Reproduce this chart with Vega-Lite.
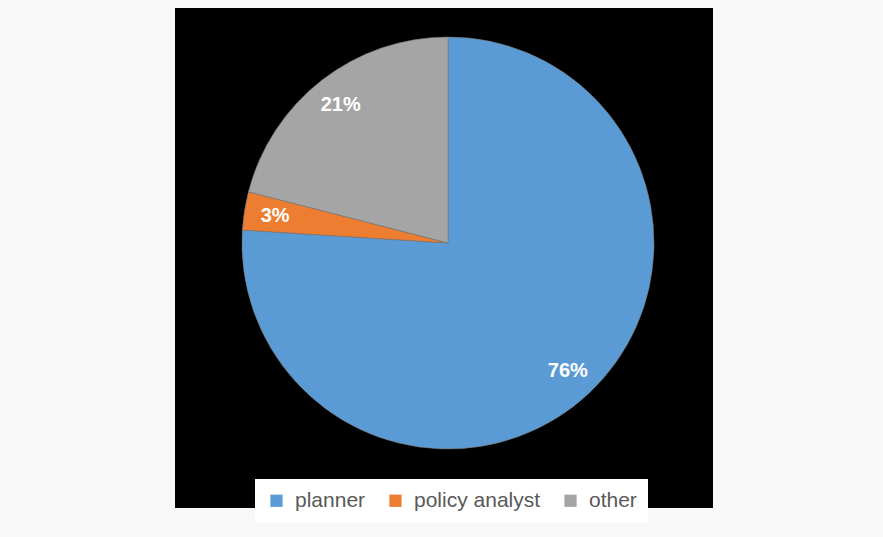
{
  "$schema": "https://vega.github.io/schema/vega-lite/v6.json",
  "width": 538,
  "height": 500,
  "autosize": {"type": "none"},
  "padding": {"left": 175, "top": 8, "right": 170, "bottom": 29},
  "background": "#f8f8f8",
  "view": {"fill": "black", "stroke": null},
  "data": {
    "values": [
      {"role": "planner", "share": 0.76, "idx": 1},
      {"role": "policy analyst", "share": 0.03, "idx": 2},
      {"role": "other", "share": 0.21, "idx": 3}
    ]
  },
  "encoding": {
    "theta": {"field": "share", "type": "quantitative", "stack": true},
    "order": {"field": "idx", "type": "quantitative"},
    "color": {
      "field": "role",
      "type": "nominal",
      "scale": {"domain": ["planner", "policy analyst", "other"], "range": ["#5B9BD5", "#ED7D31", "#A5A5A5"]},
      "legend": {
        "title": null,
        "orient": "none",
        "legendX": 80,
        "legendY": 471,
        "direction": "horizontal",
        "fillColor": "white",
        "padding": 11,
        "symbolType": "square",
        "symbolSize": 150,
        "symbolStrokeWidth": 0,
        "labelFontSize": 21,
        "labelFont": "Liberation Sans",
        "labelColor": "#595959",
        "labelOffset": 8,
        "columnPadding": 19
      }
    }
  },
  "layer": [
    {
      "mark": {
        "type": "arc",
        "radius": 206,
        "x": {"expr": "width/2 + 4"},
        "y": {"expr": "height/2 - 15"},
        "stroke": "#7a7a7a",
        "strokeWidth": 0.6
      }
    },
    {
      "mark": {
        "type": "text",
        "radius": 175,
        "x": {"expr": "width/2 + 4"},
        "y": {"expr": "height/2 - 15"},
        "font": "Liberation Sans",
        "fontWeight": "bold",
        "fontSize": 20,
        "fill": "white"
      },
      "encoding": {
        "text": {"field": "share", "type": "quantitative", "format": ".0%"},
        "color": {"value": "white"}
      }
    }
  ]
}
